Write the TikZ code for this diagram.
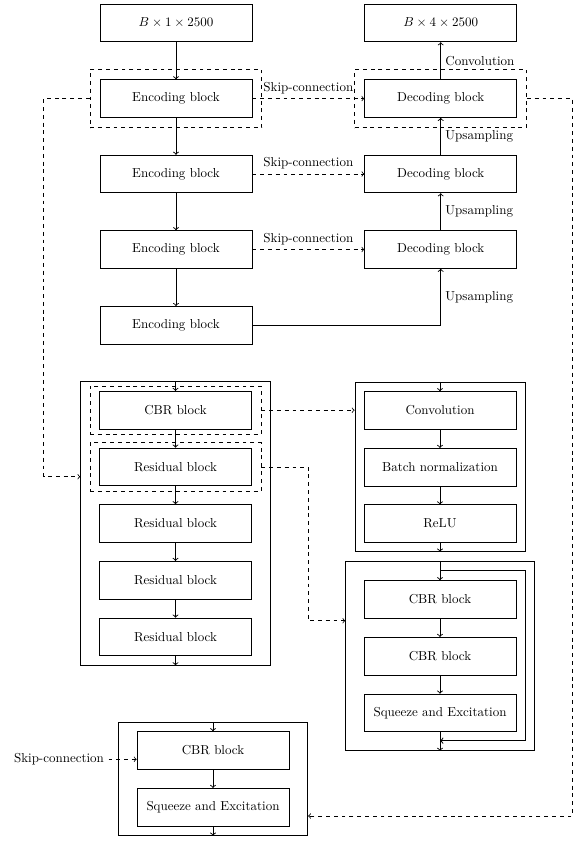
\documentclass[tikz,border=0pt]{standalone}
\usetikzlibrary{fit,positioning}
\begin{document}
\begin{tikzpicture}[x=0.77pt,y=-0.77pt,
  blk/.style={draw,line width=0.6pt,rectangle,minimum width=117pt,minimum height=29pt,inner sep=0pt,font=\normalsize},
  outerbox/.style={draw,line width=0.6pt,rectangle,inner sep=0pt},
  groupbox/.style={draw,line width=0.6pt,dashed,rectangle},
  flow/.style={->,line width=0.7pt},
  skip/.style={->,line width=0.6pt,dashed},
  loopline/.style={->,thick},
  lbl/.style={font=\normalsize}]
\useasboundingbox (0,0) rectangle (580,842);

% ---------------- U-Net overview ----------------
\node[blk] (in)  at (176,23)    {$B\times1\times2500$};
\node[blk] (out) at (440.7,23)  {$B\times4\times2500$};
\node[blk] (e1) at (176,98.6)   {Encoding block};
\node[blk] (e2) at (176,174)    {Encoding block};
\node[blk] (e3) at (176,249.5)  {Encoding block};
\node[blk] (e4) at (176,325.3)  {Encoding block};
\node[blk] (d1) at (440.7,98.6) {Decoding block};
\node[blk] (d2) at (440.7,174)  {Decoding block};
\node[blk] (d3) at (440.7,249.5){Decoding block};

\node[groupbox,fit=(e1),inner xsep=7.3pt,inner ysep=7.6pt] (e1f) {};
\node[groupbox,fit=(d1),inner xsep=7.3pt,inner ysep=7.6pt] (d1f) {};

\draw[flow] (in) -- (e1);
\draw[flow] (e1) -- (e2);
\draw[flow] (e2) -- (e3);
\draw[flow] (e3) -- (e4);
\draw[flow] (e4.east) -| node[pos=0.75,right,lbl]{Upsampling} (d3.south);
\draw[flow] (d3) -- node[right,lbl]{Upsampling} (d2);
\draw[flow] (d2) -- node[right,lbl]{Upsampling} (d1);
\draw[flow] (d1) -- node[right,lbl]{Convolution} (out);

\draw[skip] (e1.east) -- node[above,lbl]{Skip-connection} (d1.west);
\draw[skip] (e2.east) -- node[above,lbl]{Skip-connection} (d2.west);
\draw[skip] (e3.east) -- node[above,lbl]{Skip-connection} (d3.west);

% ---------------- encoding block detail ----------------
\node[outerbox,fit={(80.7,381.7) (270,665)}] (enc) {};
\node[blk] (c0) at (175.5,410.2) {CBR block};
\node[blk] (r1) at (175.5,466.9) {Residual block};
\node[blk] (r2) at (175.5,523.5) {Residual block};
\node[blk] (r3) at (175.5,580.2) {Residual block};
\node[blk] (r4) at (175.5,636.9) {Residual block};
\node[groupbox,fit=(c0),inner xsep=7pt,inner ysep=3.8pt] (c0f) {};
\node[groupbox,fit=(r1),inner xsep=7pt,inner ysep=3.8pt] (r1f) {};
\draw[flow] (enc.north -| c0) -- (c0.north);
\draw[flow] (c0) -- (r1);
\draw[flow] (r1) -- (r2);
\draw[flow] (r2) -- (r3);
\draw[flow] (r3) -- (r4);
\draw[flow] (r4.south) -- (enc.south -| r4);

% ---------------- CBR block detail ----------------
\node[outerbox,fit={(355,382.3) (525,551.3)}] (cbr) {};
\node[blk] (conv) at (440,410.5) {Convolution};
\node[blk] (bn)   at (440,467.2) {Batch normalization};
\node[blk] (relu) at (440,523.7) {ReLU};
\draw[flow] (cbr.north -| conv) -- (conv.north);
\draw[flow] (conv) -- (bn);
\draw[flow] (bn) -- (relu);
\draw[flow] (relu.south) -- (cbr.south -| relu);

% ---------------- residual block detail ----------------
\node[outerbox,fit={(345.7,561.3) (534.3,750.5)}] (res) {};
\node[blk] (rc1) at (440,599.5) {CBR block};
\node[blk] (rc2) at (440,656.2) {CBR block};
\node[blk] (se)  at (440,712.9) {Squeeze and Excitation};
\coordinate (ls) at (440,570.7);
\coordinate (lc) at (525.3,570.7);
\coordinate (le) at (440,740.7);
\draw[flow] (res.north -| rc1) -- (rc1.north);
\draw[flow] (rc1) -- (rc2);
\draw[flow] (rc2) -- (se);
\draw[flow] (se.south) -- (res.south -| se);
\draw[loopline] (ls) -- (lc) |- (le);

% ---------------- decoding block detail ----------------
\node[outerbox,fit={(118.3,722.3) (307.7,835.3)}] (dec) {};
\node[blk] (dc) at (213,750.5) {CBR block};
\node[blk] (ds) at (213,807.2) {Squeeze and Excitation};
\node[lbl,anchor=east] (skl) at (108.5,759.3) {Skip-connection};
\draw[flow] (dec.north -| dc) -- (dc.north);
\draw[flow] (dc) -- (ds);
\draw[flow] (ds.south) -- (dec.south -| ds);
\draw[skip] (skl.east) -- (dc.west |- skl.east);

% ---------------- links between overview and details ----------------
\coordinate (lt) at (43.7,476.7);
\draw[skip] (e1f.west) -| (lt) -- (enc.west |- lt);
\coordinate (rt) at (572.3,816);
\draw[skip] (d1f.east) -| (rt) -- (dec.east |- rt);
\draw[skip] (c0f.east) -- (cbr.west |- c0f.east);
\coordinate (rb) at (308.3,620.7);
\draw[skip] (r1f.east) -| (rb) -- (res.west |- rb);
\end{tikzpicture}
\end{document}
